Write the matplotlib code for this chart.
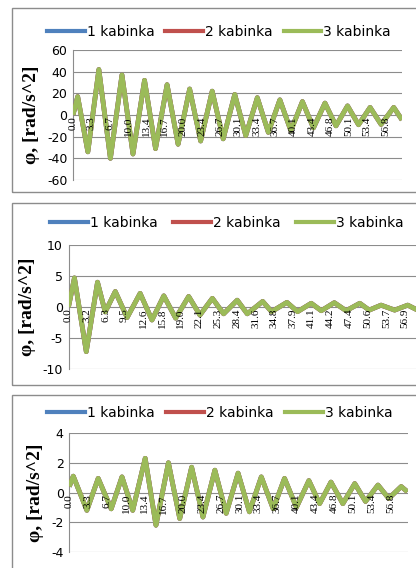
import matplotlib
matplotlib.use("Agg")
import matplotlib.pyplot as plt
from matplotlib.lines import Line2D
from matplotlib.patches import Rectangle

W, H = 416, 568

series_names = ["1 kabinka", "2 kabinka", "3 kabinka"]
series_colors = ["#4F81BD", "#C0504D", "#9BBB59"]

# chart 1: turning points of the oscillation
t1 = [0.0, 0.85, 2.7, 4.7, 6.8, 8.9, 10.9, 13.0, 15.0, 17.1, 19.1, 21.2, 23.2,
      25.3, 27.3, 29.4, 31.4, 33.5, 35.5, 37.6, 39.6, 41.7, 43.7, 45.8, 47.8,
      49.9, 51.9, 54.0, 56.0, 58.3, 59.8]
phi1 = [0, 17, -34, 42, -40, 37, -36, 32, -31, 28, -27, 24, -24,
        22, -22, 19, -19, 16, -16, 14, -14.5, 12.4, -12, 11, -10,
        8.4, -9, 7, -8.7, 7, -4.5]
xlabels1 = ["0.0", "3.3", "6.7", "10.0", "13.4", "16.7", "20.0", "23.4", "26.7",
            "30.1", "33.4", "36.7", "40.1", "43.4", "46.8", "50.1", "53.4", "56.8"]

# chart 2
t2 = [0.0, 1.0, 3.0, 4.9, 6.2, 7.9, 9.9, 12.1, 14.1, 16.1, 18.1, 20.3, 22.2,
      24.3, 26.2, 28.5, 30.2, 32.8, 34.3, 36.9, 38.7, 41.0, 42.7, 44.9, 46.9,
      49.2, 50.8, 52.8, 55.1, 57.3, 59.8]
phi2 = [0, 4.7, -7.2, 4.0, -0.8, 2.5, -1.7, 2.2, -2.1, 1.8, -1.8, 1.7, -1.3,
        1.4, -1.1, 1.1, -1.1, 0.9, -0.75, 0.75, -0.75, 0.6, -0.6, 0.7, -0.6,
        0.6, -0.5, 0.3, -0.5, 0.3, -0.9]
xlabels2 = ["0.0", "3.2", "6.3", "9.5", "12.6", "15.8", "19.0", "22.1", "25.3",
            "28.4", "31.6", "34.8", "37.9", "41.1", "44.2", "47.4", "50.6",
            "53.7", "56.9"]

# chart 3
t3 = [0.0, 0.7, 3.1, 5.1, 7.4, 9.3, 11.2, 13.4, 15.3, 17.5, 19.5, 21.6, 23.6,
      25.7, 27.7, 29.8, 31.8, 33.9, 36.0, 38.0, 40.1, 42.3, 44.2, 46.2, 48.3,
      50.4, 52.3, 54.5, 56.4, 58.6, 59.7]
phi3 = [0.4, 1.1, -1.2, 0.95, -1.1, 1.05, -1.2, 2.3, -2.2, 2.0, -1.75, 1.7, -1.65,
        1.5, -1.4, 1.3, -1.3, 1.05, -1.1, 0.95, -1.0, 0.8, -0.75, 0.7, -0.75,
        0.6, -0.6, 0.5, -0.4, 0.4, 0.05]
xlabels1_step = 3.34
xlabels2_step = 3.16

GRID = "#8C8C8C"
BORDER = "#8C8C8C"

fig = plt.figure(figsize=(W / 100, H / 100), dpi=100)


def box(x0, y0, x1, y1):
    return [x0 / W, 1 - y1 / H, (x1 - x0) / W, (y1 - y0) / H]


def chart(frame, plot, t, phi, xlabels, step, ylim, ystep, legend_at, colspace):
    # chart area outline
    fx0, fy0, fx1, fy1 = frame
    fig.patches.append(Rectangle((fx0 / W, 1 - fy1 / H), (fx1 - fx0) / W,
                                 (fy1 - fy0) / H, transform=fig.transFigure,
                                 fill=False, edgecolor=BORDER, linewidth=1.0))
    ax = fig.add_axes(box(*plot))
    ax.patch.set_alpha(0)
    # category labels sit right under the zero line
    ax.spines["bottom"].set_position(("data", 0))
    ax.spines["bottom"].set_visible(False)
    ax.spines["top"].set_visible(False)
    ax.spines["right"].set_visible(False)
    ax.spines["left"].set_color(BORDER)
    ax.spines["left"].set_zorder(1)
    ax.set_axisbelow(False)

    yt = [ylim[0] + i * ystep for i in range(int((ylim[1] - ylim[0]) / ystep) + 1)]
    for v in yt:
        ax.axhline(v, color=GRID, linewidth=0.8, zorder=1)
    for name, color in zip(series_names, series_colors):
        ax.plot(t, phi, color=color, linewidth=3.4, solid_joinstyle="round",
                solid_capstyle="butt", label=name, zorder=2)

    ax.set_xlim(0, 59.8)
    ax.set_ylim(*ylim)
    ax.set_yticks(yt)
    ax.set_yticklabels([f"{v:g}" for v in yt], fontsize=9, family="DejaVu Sans")
    ax.set_xticks([i * step for i in range(len(xlabels))])
    ax.set_xticklabels(xlabels, rotation=90, fontsize=8, family="Liberation Serif")
    ax.tick_params(axis="x", length=0, pad=1)
    ax.tick_params(axis="y", length=0, pad=4)
    ax.set_ylabel("φ, [rad/s^2]", family="Liberation Serif", fontweight="bold",
                  fontsize=14, labelpad=5)
    handles = [Line2D([], [], color=c, linewidth=3.0) for c in series_colors]
    ax.legend(handles, series_names, loc="center left",
              bbox_to_anchor=(legend_at[0] / W, 1 - legend_at[1] / H),
              bbox_transform=fig.transFigure, ncol=3, frameon=False,
              prop={"family": "DejaVu Sans", "size": 10}, handlelength=2.7,
              handletextpad=0.15, columnspacing=colspace, borderpad=0,
              borderaxespad=0)
    return ax


chart((12, 8, 440, 192), (73, 50, 402, 180), t1, phi1, xlabels1, xlabels1_step,
      (-60, 60), 20, (47, 32), 0.8)
chart((12, 203, 440, 385), (68.5, 245, 422.5, 369), t2, phi2, xlabels2,
      xlabels2_step, (-10, 10), 5, (50, 223), 1.15)
chart((12, 395, 440, 600), (69.3, 433, 408, 552), t3, phi3, xlabels1,
      xlabels1_step, (-4, 4), 2, (47, 413), 0.85)

fig.savefig("out.png", dpi=100)
